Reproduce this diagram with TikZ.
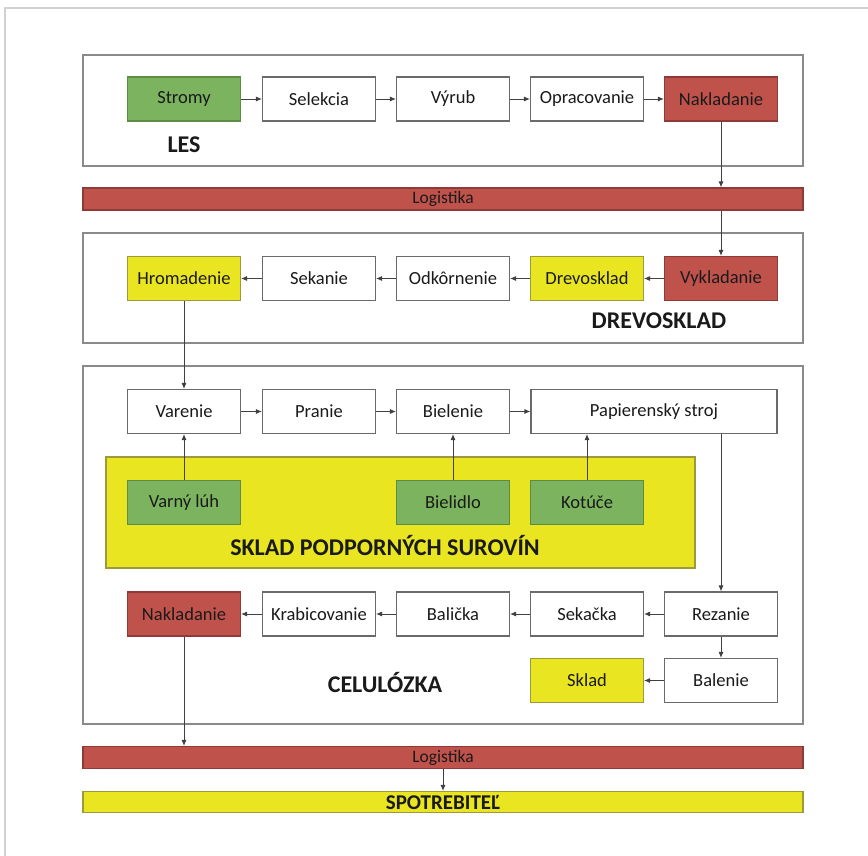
\documentclass[tikz,border=0pt]{standalone}
\usepackage{fontspec}
\setmainfont{Carlito}
\usetikzlibrary{arrows.meta}
\definecolor{cgreen}{HTML}{7BB35E}
\definecolor{cgreenb}{HTML}{5E8C45}
\definecolor{cred}{HTML}{C0524C}
\definecolor{credb}{HTML}{8E3A36}
\definecolor{cyel}{HTML}{E9E520}
\definecolor{cyelb}{HTML}{9C9A3A}
\definecolor{cframe}{HTML}{8A8A8A}
\definecolor{cbox}{HTML}{6A6A6A}
\definecolor{ctext}{HTML}{1A1A1A}
\tikzset{
  x=1pt,y=-1pt,
  box/.style={draw=cbox,line width=1.1pt,fill=white,minimum width=113pt,minimum height=44pt,inner sep=0pt,font=\fontsize{18.5}{21}\selectfont,text=ctext},
  gbox/.style={box,fill=cgreen,draw=cgreenb},
  rbox/.style={box,fill=cred,draw=credb},
  ybox/.style={box,fill=cyel,draw=cyelb},
  frame/.style={draw=cframe,line width=1.3pt,fill=white},
  bar/.style={draw=credb,line width=1.1pt,fill=cred},
  ybar/.style={draw=cyelb,line width=1.1pt,fill=cyel},
  lbl/.style={font=\bfseries\fontsize{24}{27}\selectfont,text=ctext},
  arr/.style={draw=black!75,line width=0.9pt,-{Latex[length=6pt,width=5pt]}},
}
\begin{document}
\begin{tikzpicture}
\useasboundingbox (0,0) rectangle (868,856);
\fill[white] (0,0) rectangle (868,856);
\draw[black!18,line width=1.2pt] (868,8) -- (5,8) -- (5,856);
% frames
\draw[frame] (83,55) rectangle (803,166);
\draw[frame] (83,233) rectangle (803,343);
\draw[frame] (83,366) rectangle (803,724);
\filldraw[fill=cyel,draw=cyelb,line width=1.1pt] (106,457) rectangle (695,568);
% bars
\node[bar,minimum width=720pt,minimum height=22pt,inner sep=0pt,font=\fontsize{17.5}{19}\selectfont,text=ctext] (log1) at (443,199) {Logistika};
\node[bar,minimum width=720pt,minimum height=22pt,inner sep=0pt,font=\fontsize{17.5}{19}\selectfont,text=ctext] (log2) at (443,757.5) {Logistika};
\node[ybar,minimum width=720pt,minimum height=21pt,inner sep=0pt,font=\bfseries\fontsize{21}{22}\selectfont,text=ctext] (spot) at (443,802) {SPOTREBITEĽ};
% LES row
\node[gbox] (stromy) at (184,99) {Stromy};
\node[box] (selek) at (319,99) {Selekcia};
\node[box] (vyrub) at (453,99) {Výrub};
\node[box] (oprac) at (587,99) {Opracovanie};
\node[rbox] (nak1) at (721,99) {Nakladanie};
\node[lbl] (les) at (184,145) {LES};
% Drevosklad row
\node[ybox] (hrom) at (184,278.5) {Hromadenie};
\node[box] (sek) at (319,278.5) {Sekanie};
\node[box] (odk) at (453,278.5) {Odkôrnenie};
\node[ybox] (drev) at (587,278.5) {Drevosklad};
\node[rbox] (vyk) at (721,278.5) {Vykladanie};
\node[lbl] (drevl) at (659,321) {DREVOSKLAD};
% Celulozka row 1
\node[box] (var) at (184,411.5) {Varenie};
\node[box] (pran) at (319,411.5) {Pranie};
\node[box] (biel) at (453,411.5) {Bielenie};
\node[box,minimum width=246pt] (pap) at (654,411.5) {Papierenský stroj};
% green
\node[gbox] (luh) at (184,502.5) {Varný lúh};
\node[gbox] (bield) at (453,502.5) {Bielidlo};
\node[gbox] (kot) at (587,502.5) {Kotúče};
\node[lbl] (skl) at (385,546) {SKLAD PODPORNÝCH SUROVÍN};
% row 3
\node[rbox] (nak2) at (184,614) {Nakladanie};
\node[box] (krab) at (319,614) {Krabicovanie};
\node[box] (bal) at (453,614) {Balička};
\node[box] (seka) at (587,614) {Sekačka};
\node[box] (rez) at (721,614) {Rezanie};
% row 4
\node[ybox] (sklad) at (587,680.5) {Sklad};
\node[box] (balen) at (721,680.5) {Balenie};
\node[lbl] (cel) at (385,683) {CELULÓZKA};
% arrows
\draw[arr] (stromy) -- (selek);
\draw[arr] (selek) -- (vyrub);
\draw[arr] (vyrub) -- (oprac);
\draw[arr] (oprac) -- (nak1);
\draw[arr] (nak1.south) -- (nak1.south |- log1.north);
\draw[arr] (vyk.north |- log1.south) -- (vyk.north);
\draw[arr] (vyk) -- (drev);
\draw[arr] (drev) -- (odk);
\draw[arr] (odk) -- (sek);
\draw[arr] (sek) -- (hrom);
\draw[arr] (hrom) -- (var);
\draw[arr] (var) -- (pran);
\draw[arr] (pran) -- (biel);
\draw[arr] (biel) -- (pap);
\draw[arr] (luh) -- (var);
\draw[arr] (bield) -- (biel);
\draw[arr] (kot.north) -- (kot.north |- pap.south);
\draw[arr] (rez.north |- pap.south) -- (rez.north);
\draw[arr] (rez) -- (seka);
\draw[arr] (seka) -- (bal);
\draw[arr] (bal) -- (krab);
\draw[arr] (krab) -- (nak2);
\draw[arr] (rez) -- (balen);
\draw[arr] (balen) -- (sklad);
\draw[arr] (nak2.south) -- (nak2.south |- log2.north);
\draw[arr] (log2) -- (spot);
\end{tikzpicture}
\end{document}
